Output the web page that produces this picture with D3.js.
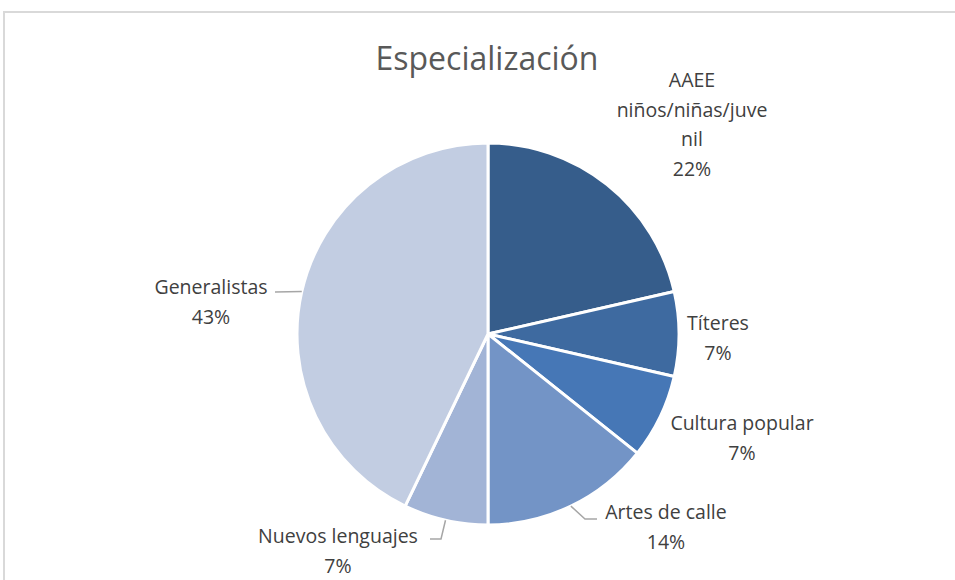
<!DOCTYPE html>
<meta charset="utf-8">
<style>
body { margin: 0; background: #fff; }
text { font-family: "Open Sans", "Noto Sans", sans-serif; fill: #404040; }
.title { fill: #595959; }
.frame { fill: none; stroke: #d9d9d9; stroke-width: 2; }
.leader { fill: none; stroke: #a6a6a6; stroke-width: 1.5; }
</style>
<svg width="955" height="580"></svg>
<script src="https://d3js.org/d3.v7.min.js"></script>
<script>

var categories = ["AAEE niños/niñas/juvenil", "Títeres", "Cultura popular", "Artes de calle", "Nuevos lenguajes", "Generalistas"];
var counts = [3, 1, 1, 2, 1, 6];
var percentLabels = ["22%", "7%", "7%", "14%", "7%", "43%"];
var labelLines = [["AAEE", "niños/niñas/juve", "nil"], ["Títeres"], ["Cultura popular"], ["Artes de calle"], ["Nuevos lenguajes"], ["Generalistas"]];
var colors = ["#365d8b", "#3e6aa0", "#4677b6", "#7394c6", "#a2b4d6", "#c2cde2"];

// label layout (text anchor point and leader end), Excel-style placement
var labelLayout = [
  {x: 692, y: 87, leader: null},
  {x: 718, y: 330, leader: null},
  {x: 742, y: 430, leader: null},
  {x: 666, y: 519, leader: [[585, 519], [597, 519]]},
  {x: 338, y: 543, leader: [[441, 539], [430, 539]]},
  {x: 211, y: 294, leader: [[275, 292]]}
];

var svg = d3.select("svg"),
    cx = 488, cy = 334, radius = 191;

svg.append("path")
    .attr("class", "frame")
    .attr("d", "M4,580V12H955");

svg.append("text")
    .attr("class", "title")
    .attr("x", 487)
    .attr("y", 70)
    .attr("text-anchor", "middle")
    .style("font-size", "32px")
    .text("Especialización");

var pie = d3.pie().sort(null).value(function(d) { return d; });
var arcs = pie(counts);

var arc = d3.arc().innerRadius(0).outerRadius(radius);

var g = svg.append("g").attr("transform", "translate(" + cx + "," + cy + ")");

g.selectAll(".slice")
  .data(arcs)
  .enter().append("path")
    .attr("class", "slice")
    .attr("d", arc)
    .attr("fill", function(d, i) { return colors[i]; })
    .attr("stroke", "#fff")
    .attr("stroke-width", 3)
    .attr("stroke-linejoin", "round");

// leader lines from the slice edge at mid angle
arcs.forEach(function(d, i) {
  var lay = labelLayout[i];
  if (!lay.leader) return;
  var a = (d.startAngle + d.endAngle) / 2;
  var p0 = [cx + Math.sin(a) * radius, cy - Math.cos(a) * radius];
  svg.append("path")
      .attr("class", "leader")
      .attr("d", d3.line()([p0].concat(lay.leader)));
});

var lineH = 29.5;
labelLayout.forEach(function(lay, i) {
  var lines = labelLines[i];
  var t = svg.append("text")
      .attr("text-anchor", "middle")
      .style("font-size", "19.5px");
  lines.forEach(function(s, j) {
    t.append("tspan").attr("x", lay.x).attr("y", lay.y + j * lineH).text(s);
  });
  t.append("tspan").attr("x", lay.x).attr("y", lay.y + lines.length * lineH).text(percentLabels[i]);
});

</script>
